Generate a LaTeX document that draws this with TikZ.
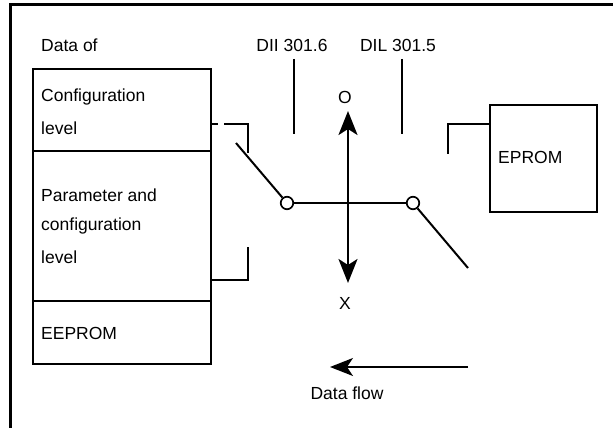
\documentclass[tikz,border=0pt]{standalone}
\usepackage{fontspec}
\setmainfont{Liberation Sans}
\usetikzlibrary{arrows.meta}
\begin{document}
\begin{tikzpicture}[x=1pt,y=-1pt,
  font=\fontsize{17.5}{21}\selectfont,
  box/.style={draw,line width=2pt,anchor=north west,inner sep=0pt},
  lbl/.style={anchor=west,inner sep=0pt},
  ctr/.style={inner sep=0pt},
  wire/.style={line width=2pt},
  thinwire/.style={line width=1.6pt},
  circ/.style={draw,circle,fill=white,line width=1.7pt,minimum size=12.5pt,inner sep=0pt},
  bigarrow/.style={line width=2.6pt,{Stealth[length=24pt,width=19pt,inset=6pt]}-{Stealth[length=24pt,width=19pt,inset=6pt]}},
  flowarrow/.style={line width=1.7pt,-{Stealth[length=23pt,width=18pt,inset=6pt]}}
]
\useasboundingbox (0,0) rectangle (613,428);
% frame
\coordinate (f1) at (10,428);
\coordinate (f2) at (10,5);
\coordinate (f3) at (613,5);
\draw[line width=3pt] (f1) -- (f2) -- (f3);

% left stack of boxes
\node[box,minimum width=178pt,minimum height=82pt] (conf) at (32,68) {};
\node[box,minimum width=178pt,minimum height=150pt] (param) at (32,150) {};
\node[box,minimum width=178pt,minimum height=63pt] (eeprom) at (32,300) {};

\node[lbl] (dataof) at (41,45) {Data of};
\node[lbl] (t1) at (41,97) {Configuration};
\node[lbl] (t2) at (41,128) {level};
\node[lbl] (t3) at (41,195) {Parameter and};
\node[lbl] (t4) at (41,226) {configuration};
\node[lbl] (t5) at (41,257) {level};
\node[lbl] (t6) at (41,333) {EEPROM};

% EPROM box
\node[box,minimum width=107pt,minimum height=107pt] (eprom) at (489,104) {};
\node[lbl] (t7) at (498,157) {EPROM};

% brackets
\coordinate (b1) at (210,124);
\coordinate (b2) at (248,124);
\coordinate (b3) at (248,153);
\draw[wire,dash pattern=on 8pt off 6pt on 200pt] (b1) -- (b2) -- (b3);
\coordinate (p1) at (210,280);
\coordinate (p2) at (248,280);
\coordinate (p3) at (248,247);
\draw[wire] (p1) -- (p2) -- (p3);
\coordinate (e1) at (489,124);
\coordinate (e2) at (448,124);
\coordinate (e3) at (448,154);
\draw[wire] (e1) -- (e2) -- (e3);

% DIL labels and lines
\node[ctr] (dii) at (292,45) {DII 301.6};
\node[ctr] (dil) at (398,45) {DIL 301.5};
\coordinate (d1a) at (294,59);
\coordinate (d1b) at (294,134);
\coordinate (d2a) at (402,59);
\coordinate (d2b) at (402,134);
\draw[thinwire] (d1a) -- (d1b);
\draw[thinwire] (d2a) -- (d2b);

% vertical double arrow
\coordinate (ua) at (348,111);
\coordinate (da) at (348,283);
\draw[bigarrow] (da) -- (ua);
\node[ctr] (o) at (345,97) {O};
\node[ctr] (x) at (345,303) {X};

% switch
\coordinate (l1) at (236,143);
\coordinate (r1) at (468,268);
\node[circ] (c1) at (287,203) {};
\node[circ] (c2) at (413,203) {};
\draw[wire] (l1) -- (c1);
\draw[wire] (c1) -- (c2);
\draw[wire] (c2) -- (r1);

% data flow
\coordinate (df1) at (468,367);
\coordinate (df2) at (330,367);
\draw[flowarrow] (df1) -- (df2);
\node[ctr] (dflow) at (347,393) {Data flow};
\end{tikzpicture}
\end{document}
